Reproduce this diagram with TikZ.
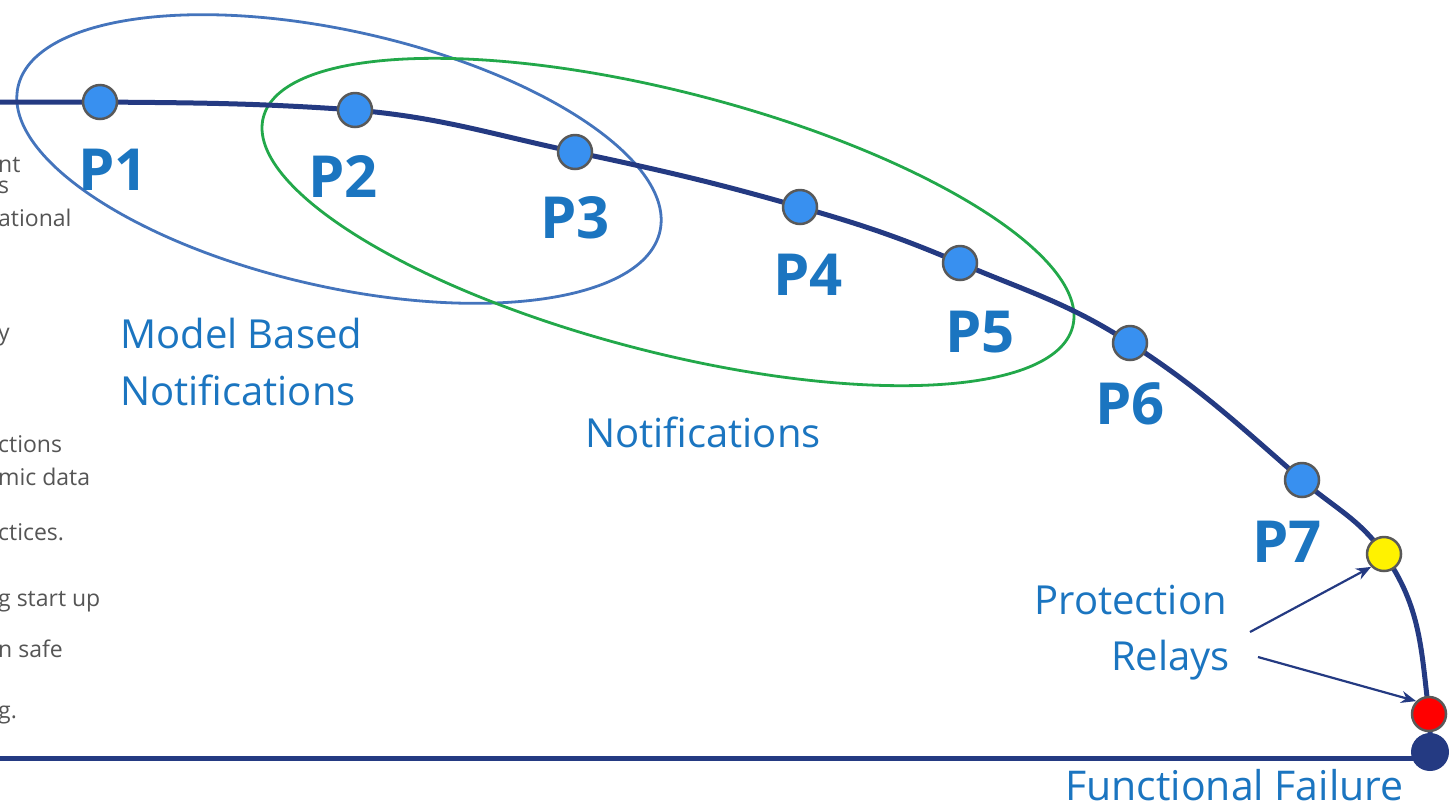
\documentclass[tikz,border=0pt]{standalone}
\usepackage{fontspec}
\setmainfont{Open Sans}
\usetikzlibrary{arrows.meta}
\definecolor{navy}{HTML}{243A82}
\definecolor{lblue}{HTML}{1B75C0}
\definecolor{dotblue}{HTML}{3890F0}
\definecolor{ellblue}{HTML}{4474BC}
\definecolor{ellgreen}{HTML}{22A84A}
\definecolor{fraggrey}{HTML}{555555}
\tikzset{
  dot/.style={circle, draw=black!65, line width=2.5pt, fill=dotblue, minimum size=34pt, inner sep=0pt},
  plabel/.style={font=\fontsize{58}{58}\selectfont\bfseries, text=lblue, anchor=base, inner sep=0pt},
  glabel/.style={font=\fontsize{40}{40}\selectfont, text=lblue, inner sep=0pt},
  frag/.style={font=\fontsize{23}{23}\selectfont, text=fraggrey, anchor=base west, inner sep=0pt},
  curve/.style={draw=navy, line width=5pt},
  pointer/.style={draw=navy, line width=2.2pt, -{Stealth[length=15pt,width=12pt]}},
}
\begin{document}
\begin{tikzpicture}[x=1pt,y=-1pt]
\useasboundingbox (0,0) rectangle (1450,807);
% left text fragments
\node[frag] (f1) at (-2,172) {nt};
\node[frag] (f2) at (-2,193) {s};
\node[frag] (f3) at (-2,226) {ational};
\node[frag] (f4) at (-2,340) {y};
\node[frag] (f5) at (-2,452) {ctions};
\node[frag] (f6) at (-2,485) {mic data};
\node[frag] (f7) at (-2,540) {ctices.};
\node[frag] (f8) at (-2,606) {g start up};
\node[frag] (f9) at (-2,657) {n safe};
\node[frag] (f10) at (-2,718) {g.};
% ellipses
\draw[ellblue, line width=2.8pt, rotate around={-12.7:(339,159)}] (339,159) ellipse [x radius=329, y radius=128];
\draw[ellgreen, line width=2.8pt, rotate around={-14.5:(668,222)}] (668,222) ellipse [x radius=418, y radius=130];
% curve points
\coordinate (s) at (0,102);
\coordinate (c1) at (100,102);
\coordinate (c2) at (355,110);
\coordinate (c3) at (575,152);
\coordinate (c4) at (800,207);
\coordinate (c5) at (960,263);
\coordinate (c6) at (1130,343);
\coordinate (c7) at (1302,480);
\coordinate (cy) at (1384,554);
\coordinate (cr) at (1429,714);
\coordinate (cf) at (1430,752);
\coordinate (b0) at (0,758);
\draw[curve] (s) -- (c1)
  to[out=-0.5,in=176] (c2)
  to[out=-5,in=168] (c3)
  to[out=-12,in=164] (c4)
  to[out=-16,in=157] (c5)
  to[out=-23,in=147] (c6)
  to[out=-33,in=139] (c7)
  to[out=-41,in=125] (cy)
  to[out=-55,in=97] (cr)
  to[out=-83,in=90] (cf);
\draw[curve] (b0) -- (b0 -| cf);
% dots
\node[dot] (p1) at (c1) {};
\node[dot] (p2) at (c2) {};
\node[dot] (p3) at (c3) {};
\node[dot] (p4) at (c4) {};
\node[dot] (p5) at (c5) {};
\node[dot] (p6) at (c6) {};
\node[dot] (p7) at (c7) {};
\node[dot, fill=yellow] (py) at (cy) {};
\node[dot, fill=red] (pr) at (cr) {};
\node[circle, fill=navy, minimum size=38pt, inner sep=0pt] (pf) at (cf) {};
% P labels
\node[plabel] (l1) at (113,190) {P1};
\node[plabel] (l2) at (343,197) {P2};
\node[plabel] (l3) at (575,238) {P3};
\node[plabel] (l4) at (808,295) {P4};
\node[plabel] (l5) at (980,352) {P5};
\node[plabel] (l6) at (1130,424) {P6};
\node[plabel] (l7) at (1287,562) {P7};
% group labels
\node[glabel, anchor=base west] (mb1) at (120,348) {Model Based};
\node[glabel, anchor=base west] (mb2) at (120,405) {Notifications};
\node[glabel, anchor=base] (nt) at (703,447) {Notifications};
\node[glabel, anchor=base east] (pr1) at (1227,614) {Protection};
\node[glabel, anchor=base east] (pr2) at (1230,670) {Relays};
\node[glabel, anchor=base west, font=\fontsize{41}{41}\selectfont] (ff) at (1065,800) {Functional Failure};
% pointers
\coordinate (a1) at (1250,632);
\coordinate (a2) at (1258,657);
\draw[pointer] (a1) -- (py.south west);
\draw[pointer] (a2) -- (pr.north west);
\end{tikzpicture}
\end{document}
